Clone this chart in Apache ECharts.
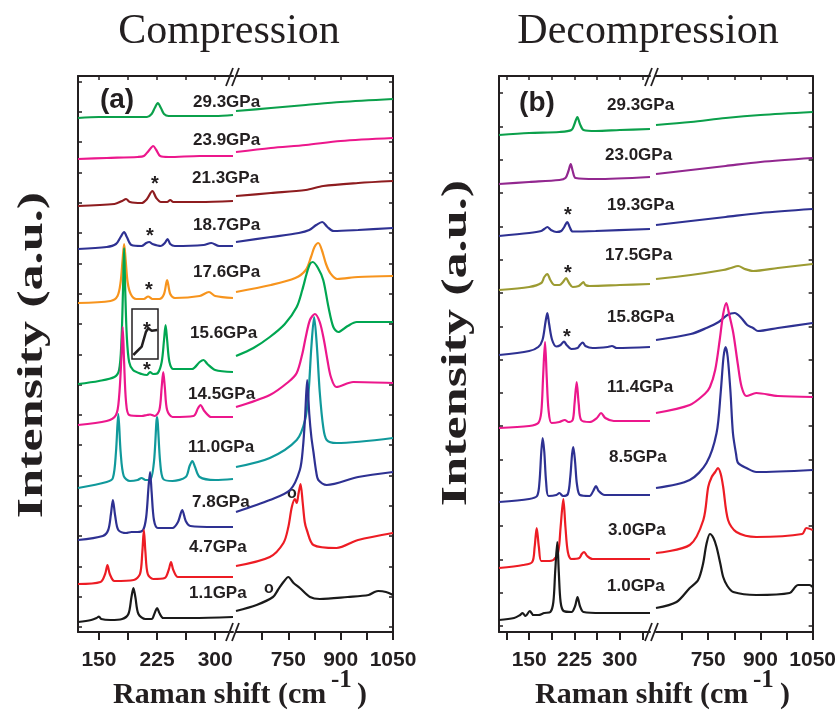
<!DOCTYPE html>
<html>
<head>
<meta charset="utf-8">
<script src="https://cdn.jsdelivr.net/npm/echarts@6/dist/echarts.min.js"></script>
<style>
  html, body { margin: 0; padding: 0; background: #fff; }
  #ec { width: 839px; height: 711px; }
</style>
</head>
<body>
<div id="ec"></div>
<script>
// Raman spectra, y = offset intensity (arb. units, stacked)
// ---- Compression, low-wavenumber window (cm-1) ----
const comp_29_3_low = [[123,514],[150,515],[180,515],[212,515],[218,518],[222,524],[226,529],[230,524],[234,518],[240,516],[270,516],[300,516],[323,517]];
const comp_23_9_low = [[123,473],[160,474],[200,475],[208,476],[214,481],[220,486],[224,482],[229,476],[240,475],[280,476],[323,476]];
const comp_21_3_low = [[123,426],[170,428],[180,431],[185,433],[190,430],[205,429],[212,433],[219,441],[224,434],[230,430],[238,430],[242,432],[246,430],[280,430],[323,431]];
const comp_18_7_low = [[123,383],[160,385],[172,388],[178,395],[182.5,400],[186,395],[192,387],[205,386],[211,389],[215,390],[219,388],[230,386],[235,389],[238.5,393],[242,388],[248,386],[285,387],[295,389],[305,386],[323,386]];
const comp_17_6_low = [[123,329],[165,331],[174,336],[178,350],[180.5,372],[182.5,388],[184.5,372],[187,350],[191,338],[198,333],[208,333],[213.5,335.5],[219,333],[228,333],[234,338],[238,352],[242,338],[248,334],[280,336],[292,340],[300,336],[323,334]];
const comp_15_6_low = [[123,248],[150,251],[170,255],[176,262],[179,290],[181,340],[182.5,384],[184,340],[186,295],[189,270],[194,262],[205,258],[212,257],[216,260],[220,258],[226,259],[231,270],[234,292],[236,307],[238,292],[241,270],[246,263],[270,263],[280,270],[285,272],[290,268],[300,262],[323,260]];
const comp_14_5_low = [[123,207],[160,211],[172,217],[176,235],[179,275],[180.7,305],[182.5,270],[185,230],[189,217],[205,216],[212,217],[216,217.5],[222,216],[228,222],[231,245],[233,260],[235,245],[238,222],[245,215],[272,216],[278,224],[281,227],[286,221],[295,215],[323,215]];
const comp_11_0_low = [[123,144],[160,150],[168,154],[172,180],[175,218],[178,180],[182,156],[190,151],[200,152],[205,154],[210,152],[216,152],[221,170],[225,215],[229,170],[233,153],[245,151],[262,155],[267,166],[270.5,171],[274,165],[280,155],[300,152],[323,153]];
const comp_7_8_low = [[123,92],[155,96],[162,102],[165.5,118],[168,132],[171,116],[175,102],[185,99],[192,100],[200,100],[207,102],[211,115],[214,145],[216,160],[218,140],[221,112],[226,104],[245,104],[252,110],[257.5,122],[262,111],[268,106],[300,105],[323,105]];
const comp_4_7_low = [[123,48],[152,50],[158,58],[161,67],[164,58],[170,51],[195,52],[203,58],[206,80],[208,102],[210,80],[213,58],[220,53],[235,54],[240,62],[243,70],[246,62],[252,55],[290,55],[323,55]];
const comp_1_1_low = [[123,10],[140,12],[147,14],[150,15.5],[153,13],[165,12],[180,13],[188,18],[192,35],[194.5,44],[197,35],[201,18],[210,13],[218,13],[222,19],[225,24],[228,19],[233,14],[270,14],[323,15]];

// ---- Compression, high-wavenumber window ----
const comp_29_3_high = [[600,521],[700,524],[800,527],[900,530],[1050,533]];
const comp_23_9_high = [[600,480],[700,484],[800,487],[900,491],[1050,494]];
const comp_21_3_high = [[600,436],[700,439],[800,442],[850,446],[950,449],[1050,451]];
const comp_18_7_high = [[600,390],[700,395],[780,399],[810,402],[830,407],[847,410],[862,405],[880,401],[950,402],[1050,404]];
const comp_17_6_high = [[600,340],[700,347],[770,354],[800,362],[815,375],[825,385],[836,389],[846,382],[858,368],[870,359],[890,353],[950,355],[1050,356]];
const comp_15_6_high = [[600,276],[650,284],[697,295],[740,308],[774,325],[790,342],[803,359],[812,368],[820,370],[835,364],[850,352],[865,325],[879,305],[893,300],[920,306],[946,310],[1050,310]];
const comp_14_5_high = [[600,225],[697,237],[750,250],[774,259],[790,278],[800,295],[812,312],[826,318],[840,310],[852,292],[862,272],[872,255],[888,245],[936,250],[1050,249]];
const comp_11_0_high = [[600,165],[697,174],[774,192],[798,212],[808,240],[816,285],[824,315],[832,285],[840,240],[850,205],[860,192],[888,189],[1050,194]];
const comp_7_8_high = [[600,120],[697,132],[755,142],[783,162],[792,185],[798,215],[804,252],[810,218],[816,195],[822,180],[830,160],[836,152],[860,147],[950,155],[1050,160]];
const comp_4_7_high = [[600,66],[697,75],[736,89],[750,105],[760,125],[769,133],[774,129],[779,138],[785,148],[791,130],[797,110],[803,102],[822,87],[888,84],[950,92],[1050,99]];
const comp_1_1_high = [[600,21],[659,27],[706,35],[720,42],[736,50],[750,55],[765,49],[783,44],[812,35],[840,33],[920,35],[980,37],[997,40],[1008,41],[1030,40],[1050,37]];

// ---- Decompression, low-wavenumber window ----
const dec_29_3_low = [[100,497],[150,499],[200,500],[220,502],[225,508],[229.7,515],[234,508],[240,502],[260,501],[300,502],[350,503]];
const dec_23_0_low = [[100,448],[150,450],[200,452],[210,454],[215,461],[218.7,468],[222,461],[227,454],[260,453],[350,455]];
const dec_19_3_low = [[100,396],[150,399],[170,401],[175,403],[180,405],[186,402],[195,400],[203,401],[208,405],[213,410],[217,405],[222,400.5],[260,401],[350,403]];
const dec_17_5_low = [[100,342],[150,345],[170,349],[175,355],[180,358],[185,352],[192,347],[200,347],[206,350],[211,354],[216,349],[222,345],[232,346],[236,348],[239.6,350],[243,347],[250,346],[300,347],[350,348]];
const dec_15_8_low = [[100,277],[150,281],[165,285],[172,292],[177,310],[180,319],[183,308],[188,292],[195,285.5],[202,287],[207.6,290.5],[212,287],[220,283],[230,284],[234,287],[238.6,289.5],[243,286],[255,284],[280,285],[287,286],[295,284],[350,285]];
const dec_11_4_low = [[100,204],[150,206],[165,209],[170,220],[173,255],[176.2,290],[179,255],[182,222],[187,209],[200,210],[209,212],[215,210],[222,212],[225,228],[228.6,250],[232,228],[236,212],[250,210],[262,214],[269,219],[276,214],[290,211],[350,211]];
const dec_8_5_low = [[100,130],[150,133],[163,136],[167,150],[170,180],[172.3,194],[175,180],[178,150],[182,136],[195,137],[200,139],[206,136],[214,138],[218,155],[221,178],[223,185],[226,170],[229,148],[234,137],[250,136],[256,141],[260.6,146],[265,141],[275,137],[350,137]];
const dec_3_0_low = [[100,64],[140,67],[155,70],[159,85],[162.4,104],[166,85],[170,71],[180,71],[190,72],[198,80],[202,105],[206.5,133],[210,105],[214,80],[220,73],[233,74],[237,78],[241,80],[246,76],[255,73],[350,73]];
const dec_1_0_low = [[100,12],[125,14],[135,17],[139,19],[144,16],[151,21],[157,17],[165,17],[175,19],[185,20],[190,30],[193,60],[196.5,90],[199,60],[202,30],[207,21],[220,20],[226,26],[230,35],[234,26],[240,20],[270,19],[350,19]];

// ---- Decompression, high-wavenumber window ----
const dec_29_3_high = [[600,507],[700,510],[800,514],[900,517],[1050,520]];
const dec_23_0_high = [[600,458],[700,462],[800,466],[900,470],[1050,474]];
const dec_19_3_high = [[600,407],[700,411],[800,415],[900,419],[1050,423]];
const dec_17_5_high = [[600,353],[700,357],[793,362],[815,364],[836,366],[855,363],[879,361],[950,364],[1050,368]];
const dec_15_8_high = [[600,292],[700,298],[745,304],[780,310],[805,317],[826,319],[845,314],[862,307],[879,304],[893,301],[950,304],[1050,309]];
const dec_11_4_high = [[600,219],[697,227],[740,238],[755,245],[770,262],[783,292],[793,318],[802,329],[810,318],[822,299],[835,268],[846,245],[860,236],[888,239],[950,236],[1050,235]];
const dec_8_5_high = [[600,144],[697,152],[745,169],[774,199],[786,240],[794,275],[800,285],[806,275],[814,240],[821,199],[830,178],[836,169],[860,164],[888,160],[1050,162]];
const dec_3_0_high = [[600,79],[697,87],[736,112],[750,145],[760,155],[770,160],[778,164],[786,158],[793,145],[807,112],[831,100],[888,95],[1020,98],[1032,104],[1050,102]];
const dec_1_0_high = [[600,24],[659,30],[697,44],[721,52],[735,68],[745,88],[755,98],[765,94],[774,85],[785,68],[793,55],[805,46],[822,40],[888,37],[984,39],[1000,45],[1008,47],[1041,47],[1050,45]];

// inset (zoom on 15.6GPa shoulder)
const inset_15_6 = [[1.3,4],[9.7,12.3],[14,27.3],[16.3,30.7],[19.7,28.3],[25.3,29]];

const compPressures = ['29.3GPa','23.9GPa','21.3GPa','18.7GPa','17.6GPa','15.6GPa','14.5GPa','11.0GPa','7.8GPa','4.7GPa','1.1GPa'];
const decPressures = ['29.3GPa','23.0GPa','19.3GPa','17.5GPa','15.8GPa','11.4GPa','8.5GPa','3.0GPa','1.0GPa'];

const lowTicksA = [150, 187.5, 225, 262.5, 300];
const lowTicksB = [112.5, 150, 187.5, 225, 262.5, 300, 337.5];
const lowLabels = [150, 225, 300];
const highTicks = [675, 750, 825, 900, 975, 1050];
const highLabels = [750, 900, 1050];
const yTicksA = [5, 35.3, 65.6, 95.9, 126.2, 156.5, 186.8, 217.1, 247.4, 277.7, 308, 338.3, 368.6, 398.9, 429.2, 459.5, 489.8, 520.1, 550.4];
const yTicksB = [6, 39.3, 72.6, 105.9, 139.2, 172.5, 205.8, 239.1, 272.4, 305.7, 339, 372.3, 405.6, 438.9, 472.2, 505.5, 538.8];

const compColors = ['#0ba04b','#ec178c','#8e1c1f','#2e3192','#f7941d','#00a651','#ec178c','#10999b','#2e3192','#ed1c24','#1a1a1a'];
const decColors = ['#0ba04b','#92278f','#2e3192','#9c9b32','#2e3192','#ec178c','#2e3192','#ed1c24','#1a1a1a'];

const compLow = [comp_29_3_low, comp_23_9_low, comp_21_3_low, comp_18_7_low, comp_17_6_low, comp_15_6_low, comp_14_5_low, comp_11_0_low, comp_7_8_low, comp_4_7_low, comp_1_1_low];
const compHigh = [comp_29_3_high, comp_23_9_high, comp_21_3_high, comp_18_7_high, comp_17_6_high, comp_15_6_high, comp_14_5_high, comp_11_0_high, comp_7_8_high, comp_4_7_high, comp_1_1_high];
const decLow = [dec_29_3_low, dec_23_0_low, dec_19_3_low, dec_17_5_low, dec_15_8_low, dec_11_4_low, dec_8_5_low, dec_3_0_low, dec_1_0_low];
const decHigh = [dec_29_3_high, dec_23_0_high, dec_19_3_high, dec_17_5_high, dec_15_8_high, dec_11_4_high, dec_8_5_high, dec_3_0_high, dec_1_0_high];

// label layout (pixels)
const compLabelPos = [[193,102],[193,140],[192,178],[193,225],[193,272],[190,333],[188,394],[188,447],[192,502],[189,547],[189,593]];
const decLabelPos = [[607,105],[605,155],[607,205],[605,255],[607,317],[607,387],[609,457],[608,530],[607,586]];
const starPos = [[155,181],[150,233],[149,287],[147,367],[147,327],[568,212],[568,270],[567,334]];
const circlePos = [[292,494],[269,589]];

const SANS = "'Liberation Sans', Arial, sans-serif";
const SERIF = "'Liberation Serif', 'Times New Roman', serif";
const INK = '#231f20';

var myEchart = echarts.init(document.getElementById('ec'));

var grids = [
  { left: 78, top: 76, width: 155, height: 556 },
  { left: 236, top: 76, width: 157, height: 556 },
  { left: 499, top: 76, width: 151, height: 556 },
  { left: 656, top: 76, width: 157, height: 556 },
  { left: 132, top: 309, width: 26, height: 50, show: true, borderColor: INK, borderWidth: 1.5 }
];
var ranges = [[123, 323], [600, 1050], [100, 350], [600, 1050]];
var tickSets = [lowTicksA, highTicks, lowTicksB, highTicks];
var labelSets = [lowLabels, highLabels, lowLabels, highLabels];

var xAxes = [], yAxes = [];
for (var i = 0; i < 4; i++) {
  xAxes.push({
    type: 'value', gridIndex: i, position: 'bottom', min: ranges[i][0], max: ranges[i][1],
    axisLine: { lineStyle: { color: INK, width: 2 } },
    axisTick: { inside: false, length: 8, lineStyle: { color: INK, width: 2 }, customValues: tickSets[i] },
    axisLabel: { customValues: labelSets[i], margin: 18, color: INK, fontFamily: SANS, fontWeight: 'bold', fontSize: 21,
      formatter: function (v) { return String(v); } },
    splitLine: { show: false }
  });
  xAxes.push({
    type: 'value', gridIndex: i, position: 'top', min: ranges[i][0], max: ranges[i][1],
    axisLine: { lineStyle: { color: INK, width: 2 } },
    axisTick: { inside: true, length: 4, lineStyle: { color: INK, width: 1.5 }, customValues: tickSets[i] },
    axisLabel: { show: false },
    splitLine: { show: false }
  });
  yAxes.push({
    type: 'value', gridIndex: i, position: (i % 2 === 0) ? 'left' : 'right', min: 0, max: 556,
    axisLine: { show: true, lineStyle: { color: INK, width: 2 } },
    axisTick: { show: true, inside: true, length: 4, lineStyle: { color: INK, width: 1.5 }, customValues: i < 2 ? yTicksA : yTicksB },
    axisLabel: { show: false },
    splitLine: { show: false }
  });
}
// inset axes
xAxes.push({ type: 'value', gridIndex: 4, min: 0, max: 26, show: false });
yAxes.push({ type: 'value', gridIndex: 4, min: 0, max: 50, show: false });

function spectrum(data, color, gi) {
  return {
    type: 'line', data: data, xAxisIndex: gi * 2, yAxisIndex: gi,
    showSymbol: false, smooth: 0.3,
    lineStyle: { color: color, width: 2.2 }, silent: true
  };
}

var series = [];
compLow.forEach(function (d, k) { series.push(spectrum(d, compColors[k], 0)); });
compHigh.forEach(function (d, k) { series.push(spectrum(d, compColors[k], 1)); });
decLow.forEach(function (d, k) { series.push(spectrum(d, decColors[k], 2)); });
decHigh.forEach(function (d, k) { series.push(spectrum(d, decColors[k], 3)); });
series.push({ type: 'line', data: inset_15_6, xAxisIndex: 8, yAxisIndex: 4, showSymbol: false,
  lineStyle: { color: INK, width: 2.5 }, silent: true });

var graphic = [];
function txt(text, x, y, font, align, extra) {
  var g = { type: 'text', x: x, y: y, silent: true,
    style: { text: text, font: font, fill: INK, align: align || 'left', verticalAlign: 'middle' } };
  if (extra) Object.assign(g, extra);
  graphic.push(g);
}
// titles
txt('Compression', 229, 32, '42px ' + SERIF, 'center');
txt('Decompression', 648, 32, '42px ' + SERIF, 'center');
// y titles
txt('Intensity (a.u.)', 33, 355, 'bold 36px ' + SERIF, 'center', { rotation: Math.PI / 2, scaleX: 1.45 });
txt('Intensity (a.u.)', 457, 343, 'bold 36px ' + SERIF, 'center', { rotation: Math.PI / 2, scaleX: 1.45 });
// x titles
txt('Raman shift (cm', 113, 695, 'bold 30px ' + SERIF, 'left');
txt('-1', 331, 681, 'bold 25px ' + SERIF, 'left');
txt(')', 357, 695, 'bold 30px ' + SERIF, 'left');
txt('Raman shift (cm', 535, 695, 'bold 30px ' + SERIF, 'left');
txt('-1', 753, 681, 'bold 25px ' + SERIF, 'left');
txt(')', 780, 695, 'bold 30px ' + SERIF, 'left');
// panel letters
txt('(a)', 117, 100, 'bold 28px ' + SANS, 'center');
txt('(b)', 537, 103, 'bold 28px ' + SANS, 'center');
// pressure labels
compPressures.forEach(function (p, k) { txt(p, compLabelPos[k][0], compLabelPos[k][1], 'bold 17px ' + SANS, 'left'); });
decPressures.forEach(function (p, k) { txt(p, decLabelPos[k][0], decLabelPos[k][1], 'bold 17px ' + SANS, 'left'); });
starPos.forEach(function (s) { txt('*', s[0], s[1] + 3, 'bold 20px ' + SANS, 'center'); });
circlePos.forEach(function (c) { txt('o', c[0], c[1], 'bold 16px ' + SANS, 'center'); });
// axis break marks
[[233, 77], [233, 632], [652, 77], [652, 632]].forEach(function (b) {
  graphic.push({ type: 'rect', silent: true, shape: { x: b[0] - 4, y: b[1] - 2, width: 8, height: 4 }, style: { fill: '#fff' } });
  [-3, 3].forEach(function (dx) {
    graphic.push({ type: 'line', silent: true,
      shape: { x1: b[0] + dx - 4, y1: b[1] + 9, x2: b[0] + dx + 3, y2: b[1] - 9 },
      style: { stroke: INK, lineWidth: 1.8 } });
  });
});

myEchart.setOption({
  backgroundColor: '#fff',
  animation: false,
  grid: grids,
  xAxis: xAxes,
  yAxis: yAxes,
  series: series,
  graphic: graphic
});
</script>
</body>
</html>
